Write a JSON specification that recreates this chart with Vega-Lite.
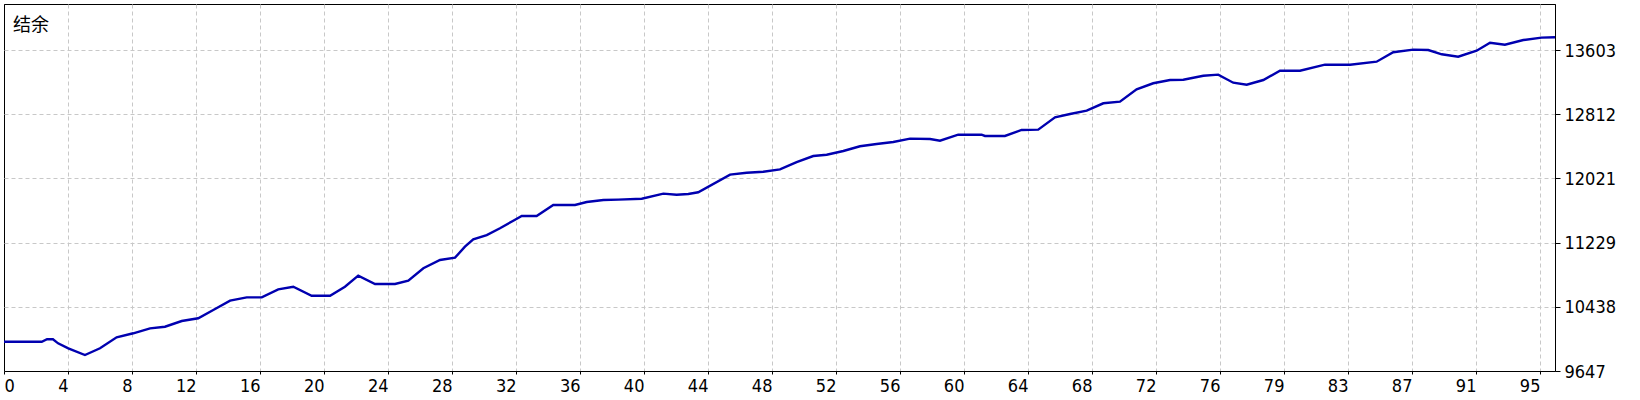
{
  "$schema": "https://vega.github.io/schema/vega-lite/v6.json",
  "width": 1551,
  "height": 367,
  "autosize": {"type": "none"},
  "padding": {"left": 4, "top": 4, "right": 85, "bottom": 29},
  "background": "white",
  "view": {"stroke": "black", "strokeWidth": 1},
  "title": {
    "text": "结余",
    "anchor": "start",
    "frame": "group",
    "orient": "top",
    "baseline": "top",
    "offset": -7,
    "dx": 9,
    "dy": 24,
    "font": "Noto Sans CJK SC",
    "fontSize": 18,
    "fontWeight": "normal",
    "color": "#000000"
  },
  "data": {
    "values": [
      {"n": 0, "balance": 10008},
      {"n": 2.36, "balance": 10008},
      {"n": 2.69, "balance": 10038},
      {"n": 3.06, "balance": 10038},
      {"n": 3.38, "balance": 9988},
      {"n": 4.02, "balance": 9927},
      {"n": 5.06, "balance": 9844},
      {"n": 6.0, "balance": 9927},
      {"n": 7.04, "balance": 10062},
      {"n": 8.08, "balance": 10112},
      {"n": 9.13, "balance": 10173},
      {"n": 10.06, "balance": 10193},
      {"n": 11.11, "balance": 10263},
      {"n": 12.14, "balance": 10297},
      {"n": 13.08, "balance": 10399},
      {"n": 14.13, "balance": 10514},
      {"n": 15.17, "balance": 10555},
      {"n": 16.11, "balance": 10555},
      {"n": 17.14, "balance": 10654},
      {"n": 18.08, "balance": 10686},
      {"n": 19.23, "balance": 10575},
      {"n": 20.38, "balance": 10575},
      {"n": 21.31, "balance": 10686},
      {"n": 22.14, "balance": 10822},
      {"n": 23.19, "balance": 10719},
      {"n": 24.44, "balance": 10719},
      {"n": 25.27, "balance": 10760},
      {"n": 26.21, "balance": 10913},
      {"n": 27.25, "balance": 11015},
      {"n": 28.19, "balance": 11044},
      {"n": 28.81, "balance": 11179},
      {"n": 29.33, "balance": 11270},
      {"n": 30.17, "balance": 11323},
      {"n": 31.0, "balance": 11406},
      {"n": 31.83, "balance": 11500},
      {"n": 32.36, "balance": 11558},
      {"n": 33.29, "balance": 11558},
      {"n": 34.33, "balance": 11693},
      {"n": 35.69, "balance": 11693},
      {"n": 36.42, "balance": 11730},
      {"n": 37.46, "balance": 11755},
      {"n": 38.39, "balance": 11759},
      {"n": 39.86, "balance": 11771},
      {"n": 41.21, "balance": 11833},
      {"n": 42.04, "balance": 11820},
      {"n": 42.77, "balance": 11829},
      {"n": 43.39, "balance": 11850},
      {"n": 45.38, "balance": 12067},
      {"n": 46.42, "balance": 12091},
      {"n": 47.46, "balance": 12104},
      {"n": 48.5, "balance": 12133},
      {"n": 49.54, "balance": 12223},
      {"n": 50.58, "balance": 12297},
      {"n": 51.42, "balance": 12313},
      {"n": 52.46, "balance": 12359},
      {"n": 53.5, "balance": 12417},
      {"n": 54.54, "balance": 12445},
      {"n": 55.58, "balance": 12470},
      {"n": 56.63, "balance": 12511},
      {"n": 57.88, "balance": 12507},
      {"n": 58.5, "balance": 12486},
      {"n": 59.64, "balance": 12560},
      {"n": 61.1, "balance": 12560},
      {"n": 61.31, "balance": 12544},
      {"n": 62.56, "balance": 12544},
      {"n": 63.6, "balance": 12618},
      {"n": 64.64, "balance": 12622},
      {"n": 65.69, "balance": 12774},
      {"n": 66.63, "balance": 12815},
      {"n": 67.67, "balance": 12856},
      {"n": 68.71, "balance": 12947},
      {"n": 69.75, "balance": 12967},
      {"n": 70.79, "balance": 13120},
      {"n": 71.83, "balance": 13194},
      {"n": 72.88, "balance": 13234},
      {"n": 73.71, "balance": 13238},
      {"n": 74.96, "balance": 13287},
      {"n": 75.89, "balance": 13300},
      {"n": 76.83, "balance": 13201},
      {"n": 77.67, "balance": 13176},
      {"n": 78.71, "balance": 13234},
      {"n": 79.75, "balance": 13349},
      {"n": 81.0, "balance": 13349},
      {"n": 82.56, "balance": 13423},
      {"n": 84.13, "balance": 13423},
      {"n": 85.79, "balance": 13460},
      {"n": 86.83, "balance": 13576},
      {"n": 88.08, "balance": 13608},
      {"n": 89.02, "balance": 13604},
      {"n": 89.86, "balance": 13551},
      {"n": 90.89, "balance": 13521},
      {"n": 92.04, "balance": 13595},
      {"n": 92.88, "balance": 13694},
      {"n": 93.81, "balance": 13669},
      {"n": 94.96, "balance": 13727},
      {"n": 96.1, "balance": 13756},
      {"n": 96.94, "balance": 13761}
    ]
  },
  "mark": {"type": "line", "color": "#0000b0", "strokeWidth": 2.4, "interpolate": "linear"},
  "encoding": {
    "x": {
      "field": "n",
      "type": "quantitative",
      "scale": {"domain": [0, 96.94], "nice": false, "zero": false},
      "axis": {
        "title": null,
        "orient": "bottom",
        "values": [0, 4, 8, 12, 16, 20, 24, 28, 32, 36, 40, 44, 48, 52, 56, 60, 64, 68, 72, 76, 80, 84, 88, 92, 96],
        "labelExpr": "datum.value >= 80 ? datum.value - 1 : datum.value",
        "labelAlign": {"condition": {"test": "datum.value == 0", "value": "left"}, "value": "right"},
        "labelBaseline": "top",
        "labelPadding": 3,
        "labelFont": "DejaVu Sans Condensed, DejaVu Sans",
        "labelFontSize": 18,
        "labelColor": "#000000",
        "domainColor": "#000000",
        "domainWidth": 1,
        "tickColor": "#000000",
        "tickSize": 3,
        "grid": true,
        "gridColor": {"condition": {"test": "datum.value == 0", "value": "#000000"}, "value": "#c8c8c8"},
        "gridDash": {"condition": {"test": "datum.value == 0", "value": []}, "value": [4, 3]},
        "gridWidth": 1,
        "labelOverlap": false
      }
    },
    "y": {
      "field": "balance",
      "type": "quantitative",
      "scale": {"domain": [9647, 14171], "nice": false, "zero": false},
      "axis": {
        "title": null,
        "orient": "right",
        "values": [9647, 10438.2, 11229.4, 12020.6, 12811.8, 13603],
        "format": ".0f",
        "labelAlign": "left",
        "labelBaseline": "middle",
        "labelOffset": 1,
        "labelPadding": 4,
        "labelFont": "DejaVu Sans Condensed, DejaVu Sans",
        "labelFontSize": 18,
        "labelColor": "#000000",
        "domainColor": "#000000",
        "tickColor": "#000000",
        "tickSize": 5,
        "grid": true,
        "gridColor": "#c8c8c8",
        "gridDash": [4, 3],
        "gridWidth": 1,
        "labelOverlap": false
      }
    }
  }
}
